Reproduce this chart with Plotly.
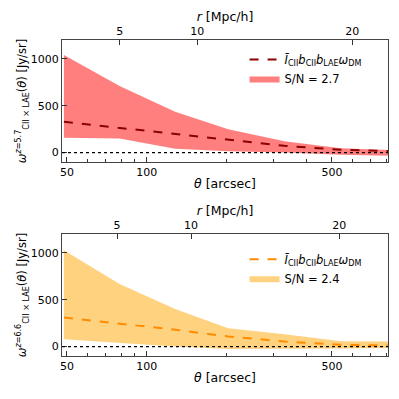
import numpy as np
import plotly.graph_objects as go

# ---------------- data ----------------
theta = [48.7, 79, 128, 203, 331, 540, 880]          # arcsec
top_upper = [1041, 709, 435, 250, 120, 47, 25]
top_lower = [157, 150, 40, 14, 0, -22, -35]
top_model = [328, 264, 200, 132, 72, 30, 14]

bot_upper = [1027, 668, 400, 197, 132, 58, 55]
bot_lower = [79, 36, 0, -25, -25, -20, -15]
bot_model = [310, 243, 180, 108, 55, 20, 10]

x_tickvals = [50, 100, 500]
x_minor = [60, 70, 80, 90, 200, 300, 400, 600, 700, 800]
r_tickvals = [5, 10, 20]
y_tickvals = [0, 500, 1000]

top_sn = "S/N = 2.7"
bot_sn = "S/N = 2.4"
model_name = "<i>I\u0304</i><sub>CII</sub><i>b</i><sub>CII</sub><i>b</i><sub>LAE</sub><i>ω</i><sub>DM</sub>"

FONT = "DejaVu Sans"
band_top = "rgba(255,0,0,0.5)"
band_bot = "rgba(255,165,0,0.5)"
line_top = "#8b0000"
line_bot = "#ff8c00"

fig = go.Figure()

def add_panel(upper, lower, model, band_col, line_col, sn, xa, ya, xtop, legend):
    fig.add_trace(go.Scatter(
        x=theta + theta[::-1], y=upper + lower[::-1], fill="toself",
        fillcolor=band_col, line=dict(width=0), mode="lines",
        name=sn, xaxis=xa, yaxis=ya, legend=legend, legendrank=2,
        hoverinfo="skip"))
    fig.add_trace(go.Scatter(
        x=theta, y=model, mode="lines",
        line=dict(color=line_col, width=2, dash="dash"),
        name=model_name, xaxis=xa, yaxis=ya, legend=legend, legendrank=1))
    # empty trace that only anchors the secondary r axis
    fig.add_trace(go.Scatter(x=r_tickvals, y=[None] * len(r_tickvals), mode="lines",
                             xaxis=xtop, yaxis=ya, showlegend=False, hoverinfo="skip"))

add_panel(top_upper, top_lower, top_model, band_top, line_top, top_sn, "x", "y", "x3", "legend")
add_panel(bot_upper, bot_lower, bot_model, band_bot, line_bot, bot_sn, "x2", "y2", "x4", "legend2")

xr = [np.log10(47.9), np.log10(814)]
common_x = dict(type="log", range=xr, tickvals=x_tickvals, ticktext=[str(v) for v in x_tickvals],
                ticks="inside", ticklen=5, tickcolor="#333", showline=True, linecolor="#444",
                linewidth=1.2, mirror=False, showgrid=False, zeroline=False, automargin=False,
                minor=dict(tickvals=x_minor, ticks="inside", ticklen=3, tickcolor="#333", showgrid=False),
                tickfont=dict(family=FONT, size=11, color="black"),
                title=dict(text="<i>θ</i> [arcsec]", font=dict(family=FONT, size=12.5, color="black"), standoff=0))
common_y = dict(range=[-100, 1200], tickvals=y_tickvals, ticks="inside", ticklen=5, tickcolor="#333",
                showline=True, linecolor="#444", linewidth=1.2, mirror=True, showgrid=False,
                zeroline=False, automargin=False, tickfont=dict(family=FONT, size=11, color="black"))
common_r = dict(side="top", tickvals=r_tickvals, ticks="inside", ticklen=5, tickcolor="#333",
                showgrid=False, zeroline=False, showline=True, linecolor="#444", linewidth=1.2,
                automargin=False, tickfont=dict(family=FONT, size=11, color="black"),
                title=dict(text="<i>r</i> [Mpc/h]", font=dict(family=FONT, size=12.5, color="black"), standoff=0))

top_dom = [0.614, 1.0]
bot_dom = [0.0, 0.386]

# the page body adds an 8 px offset, so the figure is 391 px and margins are shifted
fig.update_layout(
    width=391, height=391,
    margin=dict(l=54, r=11, t=32, b=43),
    paper_bgcolor="white", plot_bgcolor="white",
    font=dict(family=FONT, size=11, color="black"),
    xaxis=dict(common_x, domain=[0, 1], anchor="y"),
    yaxis=dict(common_y, domain=top_dom, anchor="x",
               title=dict(text="<i>ω</i><sup><i>z</i>=5.7</sup><sub>CII × LAE</sub>(<i>θ</i>) [Jy/sr]",
                          font=dict(family=FONT, size=11.5, color="black"), standoff=1)),
    xaxis2=dict(common_x, domain=[0, 1], anchor="y2"),
    yaxis2=dict(common_y, domain=bot_dom, anchor="x2",
                title=dict(text="<i>ω</i><sup><i>z</i>=6.6</sup><sub>CII × LAE</sub>(<i>θ</i>) [Jy/sr]",
                           font=dict(family=FONT, size=11.5, color="black"), standoff=1)),
    xaxis3=dict(common_r, overlaying="x", anchor="y", range=[1.28, 22.3]),
    xaxis4=dict(common_r, overlaying="x2", anchor="y2", range=[1.28, 23.3]),
    legend=dict(x=0.56, y=0.984, xanchor="left", yanchor="top", bgcolor="rgba(0,0,0,0)",
                font=dict(family=FONT, size=11.5), tracegroupgap=0),
    legend2=dict(x=0.56, y=0.352, xanchor="left", yanchor="top", bgcolor="rgba(0,0,0,0)",
                 font=dict(family=FONT, size=11.5), tracegroupgap=0),
    showlegend=True,
)

# dotted zero reference lines
for ya in ["y", "y2"]:
    fig.add_shape(type="line", xref=("x domain" if ya == "y" else "x2 domain"), yref=ya,
                  x0=0, x1=1, y0=0, y1=0, line=dict(color="black", width=1.3, dash="dot"))

fig.write_html("out.html")
